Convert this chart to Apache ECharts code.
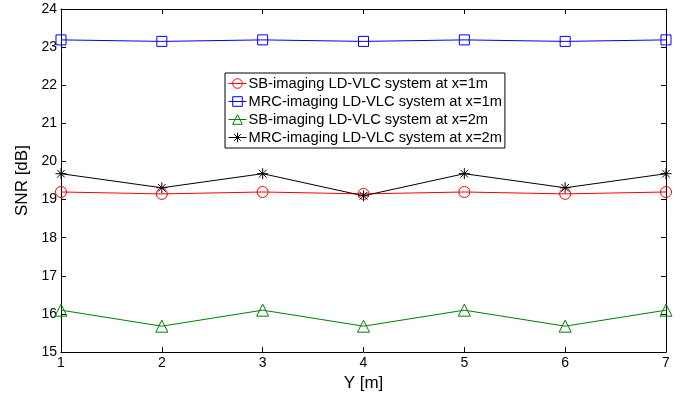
<!DOCTYPE html>
<html>
<head>
<meta charset="utf-8">
<script src="https://cdn.jsdelivr.net/npm/echarts@6/dist/echarts.min.js"></script>
<style>
  html, body { margin: 0; padding: 0; background: #fff; }
  #chart { width: 690px; height: 397px; }
</style>
</head>
<body>
<div id="chart"></div>
<script>
// Receiver positions along Y (m)
const yPositions = [1, 2, 3, 4, 5, 6, 7];

// SNR values (dB) for each system configuration
const sbX1 = [19.2, 19.15, 19.2, 19.15, 19.2, 19.15, 19.2];
const mrcX1 = [23.19, 23.15, 23.19, 23.15, 23.19, 23.15, 23.19];
const sbX2 = [16.1, 15.68, 16.1, 15.68, 16.1, 15.68, 16.1];
const mrcX2 = [19.68, 19.31, 19.68, 19.1, 19.68, 19.31, 19.68];

const seriesNames = [
  'SB-imaging LD-VLC system at x=1m',
  'MRC-imaging LD-VLC system at x=1m',
  'SB-imaging LD-VLC system at x=2m',
  'MRC-imaging LD-VLC system at x=2m'
];

const asterisk = 'path://M5,0L5,10M0,5L10,5M1.5,1.5L8.5,8.5M1.5,8.5L8.5,1.5';

function pairs(vals) {
  return yPositions.map((x, i) => [x, vals[i]]);
}

function makeSeries(name, vals, color, symbol, size) {
  return {
    name: name,
    type: 'line',
    data: pairs(vals),
    symbol: symbol,
    symbolSize: size,
    showAllSymbol: true,
    lineStyle: { color: color, width: 1 },
    itemStyle: { color: 'rgba(0,0,0,0)', borderColor: color, borderWidth: 1 },
    emphasis: { disabled: true },
    animation: false
  };
}

const font = 'Liberation Sans, Arial, Helvetica, sans-serif';
const boxLine = { show: true, onZero: false, lineStyle: { color: '#000', width: 1 } };
const inTick = { show: true, inside: true, length: 5, lineStyle: { color: '#000', width: 1 } };

const chart = echarts.init(document.getElementById('chart'), null, { renderer: 'canvas' });
chart.setOption({
  backgroundColor: '#fff',
  animation: false,
  textStyle: { fontFamily: font },
  grid: { left: 61, right: 24, top: 9, bottom: 44, containLabel: false },
  legend: {
    left: 225,
    top: 73,
    orient: 'vertical',
    backgroundColor: '#fff',
    borderColor: '#000',
    borderWidth: 1,
    borderRadius: 0,
    padding: [3, 3, 3, 3],
    itemGap: 3,
    itemWidth: 18,
    itemHeight: 12,
    lineStyle: { width: 1 },
    itemStyle: { borderWidth: 1 },
    textStyle: { fontSize: 14.7, lineHeight: 15, color: '#000', fontFamily: font, padding: [0, 0, 0, -3] },
    data: seriesNames
  },
  xAxis: [{
    type: 'value', min: 1, max: 7, interval: 1, position: 'bottom',
    name: 'Y [m]', nameLocation: 'middle', nameGap: 22,
    nameTextStyle: { fontSize: 17, color: '#000', fontFamily: font },
    axisLine: boxLine, axisTick: inTick,
    axisLabel: { fontSize: 14, color: '#000', margin: 4, fontFamily: font },
    splitLine: { show: false }
  }, {
    type: 'value', min: 1, max: 7, interval: 1, position: 'top',
    axisLine: boxLine, axisTick: inTick, axisLabel: { show: false }, splitLine: { show: false }
  }],
  yAxis: [{
    type: 'value', min: 15, max: 24, interval: 1, position: 'left',
    name: 'SNR [dB]', nameLocation: 'middle', nameGap: 25,
    nameTextStyle: { fontSize: 17, color: '#000', fontFamily: font },
    axisLine: boxLine, axisTick: inTick,
    axisLabel: { fontSize: 14, color: '#000', margin: 4, fontFamily: font },
    splitLine: { show: false }
  }, {
    type: 'value', min: 15, max: 24, interval: 1, position: 'right',
    axisLine: boxLine, axisTick: inTick, axisLabel: { show: false }, splitLine: { show: false }
  }],
  series: [
    makeSeries(seriesNames[0], sbX1, '#ff0000', 'circle', 11),
    makeSeries(seriesNames[1], mrcX1, '#0000ff', 'rect', 10),
    makeSeries(seriesNames[2], sbX2, '#008000', 'triangle', 12),
    makeSeries(seriesNames[3], mrcX2, '#000000', asterisk, 11)
  ]
});
</script>
</body>
</html>
